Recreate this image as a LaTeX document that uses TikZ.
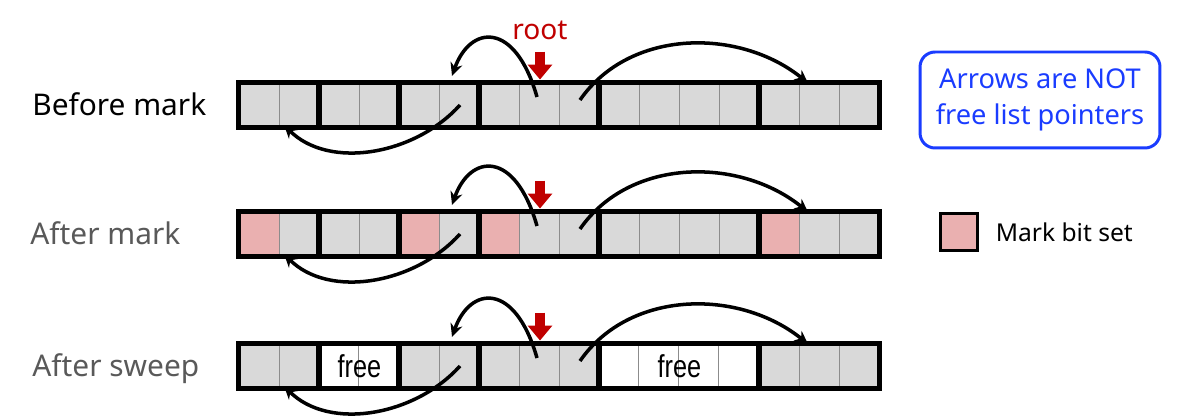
\documentclass[tikz,border=0pt]{standalone}
\usepackage{fontspec}
\setmainfont{Noto Sans}
\newfontfamily\freefont{Liberation Sans}
\usetikzlibrary{positioning, arrows.meta}
\definecolor{cellgray}{HTML}{D9D9D9}
\definecolor{sepgray}{HTML}{8C8C8C}
\definecolor{markpink}{HTML}{EAB0B0}
\definecolor{rootred}{HTML}{C00000}
\definecolor{noteblue}{HTML}{1A3CFF}
\definecolor{labelgray}{HTML}{595959}

\begin{document}
\begin{tikzpicture}[x=0.02cm, y=-0.02cm, node distance=0.3cm]
    \tikzstyle{cell} = [rectangle, draw=sepgray, line width=0.5pt, fill=cellgray, minimum width=0.8cm, minimum height=0.88cm, inner sep=0pt]
    \tikzstyle{markcell} = [draw=sepgray, line width=0.5pt, fill=markpink]
    \tikzstyle{freecell} = [draw=sepgray, line width=0.5pt, fill=white]
    \tikzstyle{block} = [draw=black, line width=2.7pt]
    \tikzstyle{pointer} = [line width=2pt, -{Stealth[length=7.5pt, width=7pt]}]
    \tikzstyle{rootptr} = [rootred, line width=5.5pt, -{Triangle[length=8.5pt, width=13.5pt]}]
    \tikzstyle{rowlabel} = [anchor=base west, inner sep=0pt, font=\fontsize{17}{20}\selectfont]
    \tikzstyle{freetext} = [inner sep=0pt, font=\freefont\fontsize{18}{20}\selectfont]
    \tikzstyle{note} = [rectangle, rounded corners=0.3cm, draw=noteblue, line width=1.7pt, text=noteblue, align=center, minimum width=4.8cm, minimum height=1.92cm, font=\fontsize{15.5}{20.5}\selectfont]
    \tikzstyle{markbox} = [rectangle, draw=black, line width=2.2pt, fill=markpink, minimum size=0.74cm, inner sep=0pt]

    \useasboundingbox (0,0) rectangle (1187,418);

    % Heap rows
    \foreach \r/\y in {a/105, b/234, c/366}
        \foreach \i in {0,...,15}
            \node[cell] (\r\i) at (259+40*\i, \y) {};

    % Mark bits set
    \foreach \i in {0,4,6,13}
        \path[markcell] (b\i.north west) rectangle (b\i.south east);

    % Swept blocks
    \foreach \i in {2,3,9,10,11,12}
        \path[freecell] (c\i.north west) rectangle (c\i.south east);
    \node[freetext] (free1) at (c2.east) {\scalebox{0.8}[1]{free}};
    \node[freetext] (free2) at (c10.east) {\scalebox{0.8}[1]{free}};

    % Block frames
    \foreach \r in {a,b,c}
        \foreach \s/\e in {0/1, 2/3, 4/5, 6/8, 9/12, 13/15}
            \draw[block] (\r\s.north west) rectangle (\r\e.south east);

    % Pointers between blocks
    \foreach \r in {a,b,c} {
        \draw[pointer] ([shift={(-2,-8)}]\r7.center) .. controls +(-22,-77) and +(18,-51) .. ([shift={(-7,-29)}]\r5.center);
        \draw[pointer] ([shift={(1,-5)}]\r8.center) .. controls +(50,-72) and +(-68,-55) .. ([shift={(-11,-22)}]\r14.center);
        \draw[pointer] ([shift={(1,0)}]\r5.center) .. controls +(-45,50) and +(45,45) .. ([shift={(-15,20)}]\r1.center);
    }

    % Root pointers
    \foreach \r in {a,b,c} {
        \coordinate (\r top) at ([shift={(1,-31)}]\r7.north);
        \draw[rootptr] (\r top) -- ([shift={(1,-3)}]\r7.north);
    }
    \node[inner sep=0pt, text=rootred, font=\fontsize{16}{18}\selectfont, above=0.22cm of atop] (rootlbl) {root};

    % Row labels
    \node[rowlabel] (beforemark) at (32, 116) {Before mark};
    \node[rowlabel, text=labelgray] (aftermark) at (30, 245) {After mark};
    \node[rowlabel, text=labelgray] (aftersweep) at (32, 377) {After sweep};

    % Legend
    \node[note] (notebox) at (1040, 100) {Arrows are NOT\\free list pointers};
    \node[markbox] (markkey) at (959, 232) {};
    \node[inner sep=0pt, font=\fontsize{14}{16}\selectfont, right=0.32cm of markkey] (markkeytext) {Mark bit set};
\end{tikzpicture}
\end{document}
